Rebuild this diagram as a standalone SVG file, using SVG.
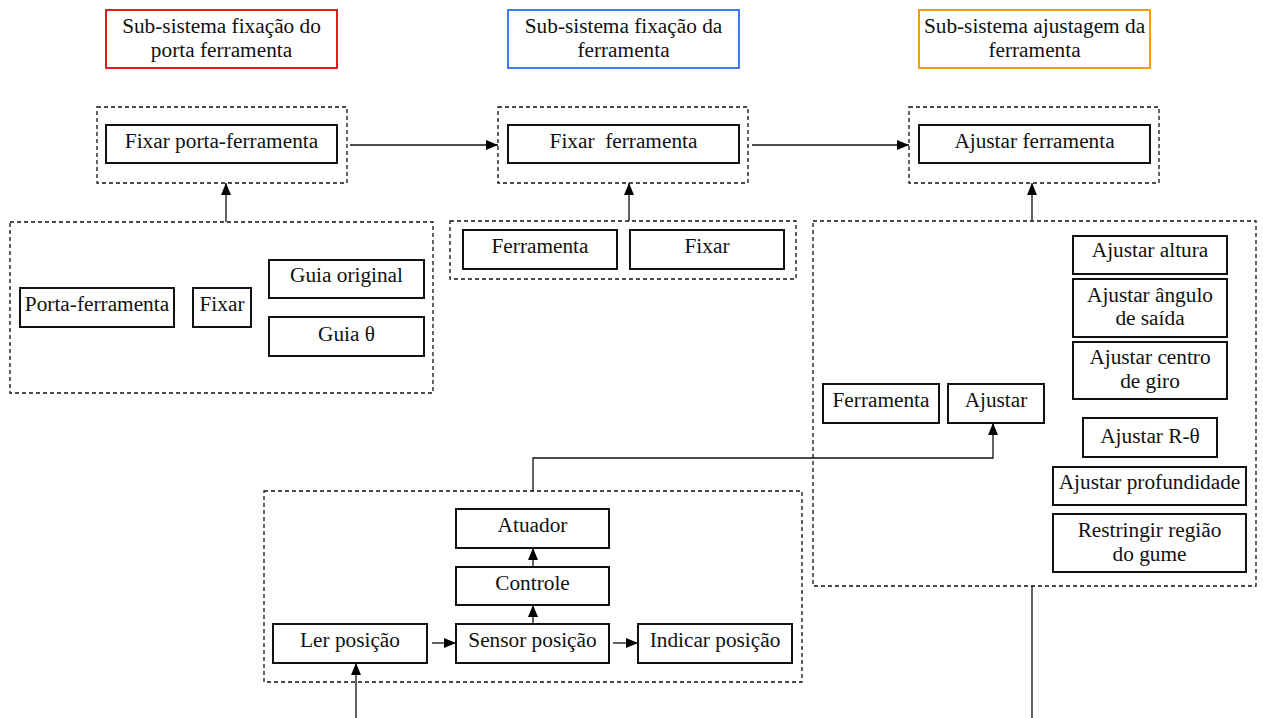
<svg xmlns="http://www.w3.org/2000/svg" width="1263" height="718" viewBox="0 0 1263 718">
<defs>
<style>
text{font-size:21.3px;fill:#111;text-anchor:middle}
.b{fill:#fff;stroke:#111;stroke-width:2}
.d{fill:none;stroke:#111;stroke-width:1.3;stroke-dasharray:4 3}
.c{fill:none;stroke:#111;stroke-width:1.3}
</style>
<marker id="ah" viewBox="0 0 12 10" refX="12" refY="5" markerWidth="12" markerHeight="10" markerUnits="userSpaceOnUse" orient="auto">
<path d="M0,0 L12,5 L0,10 Z" fill="#000"/>
</marker>
</defs>
<rect width="1263" height="718" fill="#fff"/>
<g font-family="'Liberation Serif', 'DejaVu Serif', 'Times New Roman', serif">
<g id="title1"><rect x="106" y="10" width="231" height="58" fill="#fff" stroke="#e8191c" stroke-width="2"/><text x="221.5" y="33">Sub-sistema fixação do</text><text x="221.5" y="57">porta ferramenta</text></g>
<g id="title2"><rect x="508" y="10" width="231" height="58" fill="#fff" stroke="#3d7cf0" stroke-width="2"/><text x="623.5" y="33">Sub-sistema fixação da</text><text x="623.5" y="57">ferramenta</text></g>
<g id="title3"><rect x="919" y="10" width="231" height="58" fill="#fff" stroke="#f59e0b" stroke-width="2"/><text x="1034.5" y="33">Sub-sistema ajustagem da</text><text x="1034.5" y="57">ferramenta</text></g>

<g id="grp-fpf"><rect class="d" x="97" y="107" width="250" height="76"/><rect class="b" x="106" y="125" width="231" height="38"/><text x="221.5" y="148">Fixar porta-ferramenta</text></g>
<g id="grp-ff"><rect class="d" x="498" y="107" width="250" height="76"/><rect class="b" x="508" y="125" width="231" height="38"/><text x="623.5" y="148" xml:space="preserve">Fixar  ferramenta</text></g>
<g id="grp-af"><rect class="d" x="909" y="107" width="250" height="76"/><rect class="b" x="919" y="125" width="231" height="38"/><text x="1034.5" y="148">Ajustar ferramenta</text></g>

<g id="grp-left"><rect class="d" x="10" y="222" width="423" height="171"/>
<rect class="b" x="20" y="288" width="154" height="39"/><text x="97" y="311">Porta-ferramenta</text>
<rect class="b" x="193" y="288" width="58" height="39"/><text x="222" y="311">Fixar</text>
<rect class="b" x="269" y="260" width="155" height="38"/><text x="346.5" y="282">Guia original</text>
<rect class="b" x="269" y="317" width="155" height="39"/><text x="346.5" y="341">Guia θ</text>
</g>

<g id="grp-mid"><rect class="d" x="450" y="221" width="346" height="58"/>
<rect class="b" x="463" y="230" width="154" height="39"/><text x="540" y="253">Ferramenta</text>
<rect class="b" x="630" y="230" width="154" height="39"/><text x="707" y="253">Fixar</text>
</g>

<g id="grp-right"><rect class="d" x="813" y="221" width="443" height="365"/>
<rect class="b" x="1073" y="236" width="154" height="38"/><text x="1150" y="257">Ajustar altura</text>
<rect class="b" x="1073" y="279" width="154" height="58"/><text x="1150" y="302">Ajustar ângulo</text><text x="1150" y="325">de saída</text>
<rect class="b" x="1073" y="342" width="154" height="57"/><text x="1150" y="364">Ajustar centro</text><text x="1150" y="388">de giro</text>
<rect class="b" x="1083" y="418" width="134" height="39"/><text x="1150" y="443">Ajustar R-θ</text>
<rect class="b" x="1053" y="467" width="193" height="38"/><text x="1149.5" y="489">Ajustar profundidade</text>
<rect class="b" x="1053" y="514" width="193" height="58"/><text x="1149.5" y="537">Restringir região</text><text x="1149.5" y="561">do gume</text>
<rect class="b" x="823" y="384" width="116" height="39"/><text x="881" y="407">Ferramenta</text>
<rect class="b" x="948" y="384" width="96" height="39"/><text x="996" y="407">Ajustar</text>
</g>

<g id="grp-bottom"><rect class="d" x="264" y="491" width="538" height="191"/>
<rect class="b" x="456" y="509" width="153" height="39"/><text x="532.5" y="532">Atuador</text>
<rect class="b" x="456" y="567" width="153" height="38"/><text x="532.5" y="590">Controle</text>
<rect class="b" x="273" y="624" width="154" height="39"/><text x="350" y="647">Ler posição</text>
<rect class="b" x="456" y="624" width="153" height="39"/><text x="532.5" y="647">Sensor posição</text>
<rect class="b" x="638" y="624" width="154" height="39"/><text x="715" y="647">Indicar posição</text>
</g>
</g>
<g id="connectors">
<line class="c" x1="350" y1="145" x2="498" y2="145" marker-end="url(#ah)"/>
<line class="c" x1="752" y1="145" x2="909" y2="145" marker-end="url(#ah)"/>
<line class="c" x1="226" y1="222" x2="226" y2="183" marker-end="url(#ah)"/>
<line class="c" x1="629" y1="221" x2="629" y2="183" marker-end="url(#ah)"/>
<line class="c" x1="1032" y1="221" x2="1032" y2="183" marker-end="url(#ah)"/>
<polyline class="c" points="533,491 533,458 993,458 993,423" marker-end="url(#ah)"/>
<line class="c" x1="533" y1="567" x2="533" y2="548" marker-end="url(#ah)"/>
<line class="c" x1="533" y1="624" x2="533" y2="605" marker-end="url(#ah)"/>
<line class="c" x1="432" y1="643" x2="456" y2="643" marker-end="url(#ah)"/>
<line class="c" x1="613" y1="643" x2="638" y2="643" marker-end="url(#ah)"/>
<line class="c" x1="356" y1="718" x2="356" y2="663" marker-end="url(#ah)"/>
<line class="c" x1="1032" y1="586" x2="1032" y2="718"/>
</g>
</svg>
